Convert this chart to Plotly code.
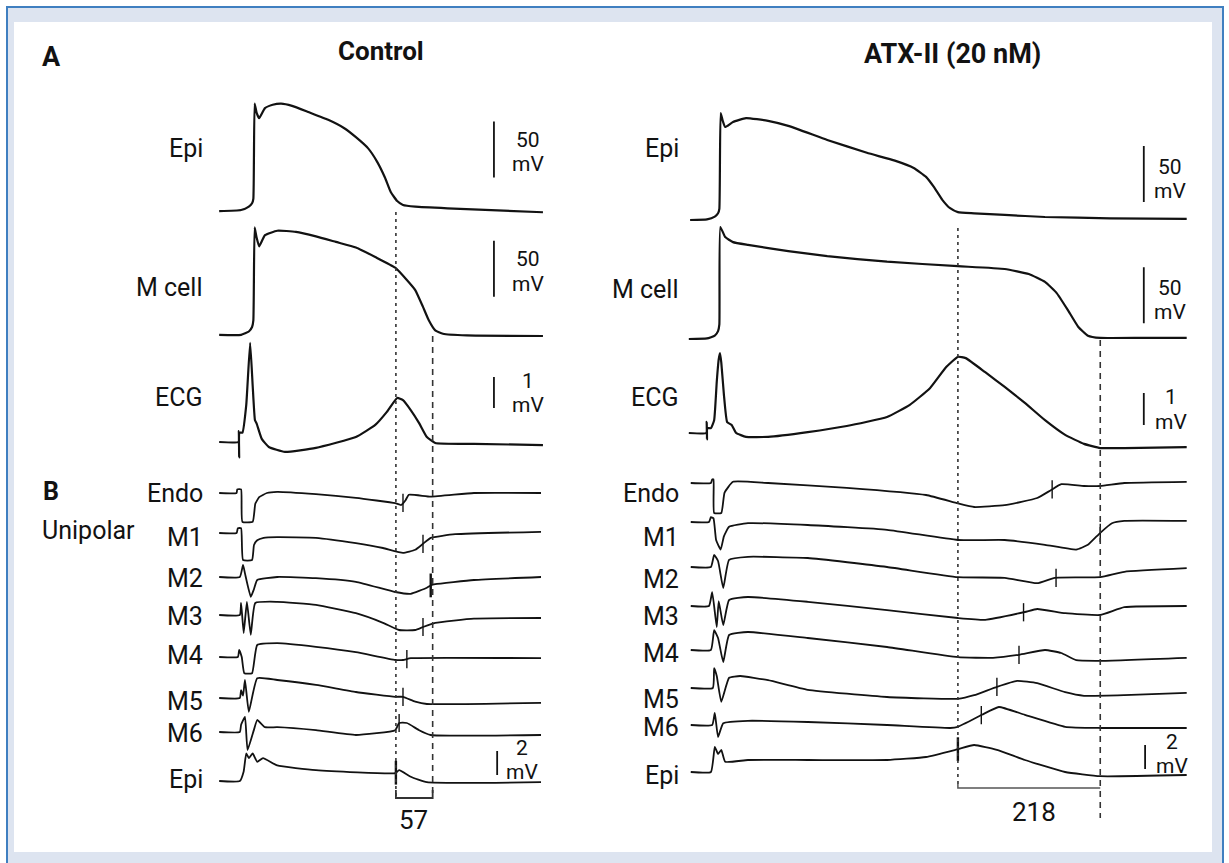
import numpy as np
import plotly.graph_objects as go

W, H = 1229, 863

# ======================= DATA (time: ms from upstroke, values: mV) =======================
# ---- Panel A : Control ----
ctrl_epi_t = [-54, -20, -8, -3, -1, 1, 4, 8, 17, 29, 42, 59, 84, 115, 140, 158, 177, 191, 203, 212, 222, 231, 250, 300, 448]
ctrl_epi_v = [-86, -85, -82, -79, -75, 10, 2, -3, 6, 9, 10, 8, 2.5, -4.5, -12, -20, -30, -42, -56, -69, -77, -80.5, -82, -83.5, -87]

ctrl_m_t = [-54, -20, -8, -3, -1, 1, 4, 8, 17, 36, 65, 96, 127, 158, 188, 219, 237, 250, 262, 271, 281, 293, 330, 448]
ctrl_m_v = [-84, -84, -81, -77, -71, 12, 3, -5, 5, 9, 8, 4, -1, -6, -14.5, -24, -35, -44, -59, -71, -80, -83, -84.5, -85]

ctrl_ecg_t = [-54, -24, -23.5, -23, -22.5, -18, -12, -6, -2, 1.5, 4, 12, 23, 48, 96, 158, 188, 206, 222, 231, 243, 256, 268, 281, 341, 448]
ctrl_ecg_v = [0, 0, 0.35, -0.5, 0.3, 0.3, 1.2, 3.2, 1.8, 0.7, 0.6, 0.1, -0.16, -0.32, -0.19, 0.16, 0.55, 0.97, 1.42, 1.35, 1.03, 0.61, 0.16, -0.03, -0.06, -0.1]

# ---- Panel A : ATX-II ----
atx_epi_t = [-46, -20, -8, -3, -1, 1, 4, 8, 20, 40, 74, 105, 165, 226, 269, 298, 317, 329, 342, 354, 366, 391, 438, 500, 600, 718]
atx_epi_v = [-85, -84.5, -82, -79, -75, 10.5, 4, -2, 2.5, 6, 3.5, -1, -13.5, -25, -32, -38.5, -46.5, -55.5, -67, -74.5, -78, -79, -80.5, -82.3, -83.5, -84]

atx_m_t = [-48, -20, -8, -3, -1, 0.5, 8, 20, 43, 105, 165, 257, 366, 438, 475, 500, 518, 535, 551, 566, 585, 650, 718]
atx_m_v = [-85, -84.5, -82, -78, -72, 15, 6, 1.5, -1, -6.5, -11, -16, -20, -22.5, -27, -34, -44, -59, -74, -82, -84, -84, -84]

atx_ecg_t = [-48, -21, -20.5, -20, -19.5, -14, -9, -5, -2, 0, 2, 6, 11, 18, 25, 40, 74, 135, 195, 257, 292, 323, 348, 366, 378, 408, 438, 469, 500, 531, 560, 585, 622, 718]
atx_ecg_v = [0, 0, 0.35, -0.2, 0.15, 0.15, 0.4, 1.6, 2.3, 2.5, 2.2, 1.2, 0.34, 0.25, 0.0, -0.12, -0.12, 0.03, 0.22, 0.5, 0.88, 1.4, 2.06, 2.38, 2.34, 1.9, 1.44, 0.94, 0.4, -0.06, -0.34, -0.47, -0.47, -0.44]

# ---- Panel B : unipolar electrograms, Control ----
channel_labels = ["Endo", "M1", "M2", "M3", "M4", "M5", "M6", "Epi"]

ctrl_endo_t = [-54, -27, -26, -20, -18, -2, 2, 8, 20, 36, 96, 158, 219, 228, 235, 240, 274, 341, 445]
ctrl_endo_v = [0, 0, 0.3, 0.3, -2.4, -2.4, -0.9, -0.35, 0, 0.1, -0.1, -0.4, -0.85, -1.0, -0.6, -0.15, -0.3, 0, 0]
ctrl_m1_t = [-54, -27, -25, -20, -17, -3, 0, 5, 15, 36, 96, 158, 200, 231, 250, 262, 274, 312, 445]
ctrl_m1_v = [0, 0, 0.4, 0.4, -2.25, -2.25, -1.0, -0.6, -0.4, -0.35, -0.4, -0.85, -1.25, -1.65, -1.4, -0.9, -0.4, -0.1, 0.1]
ctrl_m2_t = [-54, -22, -17, -14, -5, 0, 5, 36, 96, 158, 219, 243, 268, 274, 281, 341, 445]
ctrl_m2_v = [0, 0, 1.0, 0.3, -1.65, -1.0, -0.25, 0, -0.1, -0.4, -1.25, -1.4, -0.9, -0.7, -0.6, -0.25, 0]
ctrl_m3_t = [-54, -22, -20, -16, -11, -5, 2, 36, 96, 158, 200, 225, 250, 262, 281, 341, 445]
ctrl_m3_v = [0, 0, 1.0, -1.5, 1.1, -1.65, 1.0, 1.1, 0.85, 0.15, -0.65, -1.25, -1.25, -1.0, -0.65, -0.3, -0.25]
ctrl_m4_t = [-54, -25, -23, -19, -15, -3, 5, 36, 96, 158, 219, 231, 243, 445]
ctrl_m4_v = [0, 0, 0.6, 0, -1.35, -1.35, 1.0, 1.15, 0.85, 0.4, -0.25, -0.25, -0.1, -0.1]
ctrl_m5_t = [-54, -22, -20, -17, -14, -8, 5, 36, 96, 158, 219, 231, 250, 268, 445]
ctrl_m5_v = [0, 0, 0.65, 0.2, 1.5, -1.15, 1.65, 1.5, 1.1, 0.5, 0.1, 0.1, -0.3, -0.5, -0.4]
ctrl_m6_t = [-54, -22, -20, -14, -10, 0, 5, 17, 36, 96, 158, 219, 225, 237, 256, 274, 445]
ctrl_m6_v = [0, 0, 0.6, 1.25, -1.5, 0.2, 1.0, 0.4, 0.4, 0.15, -0.25, 0.15, 0.75, 0.75, 0.15, -0.25, -0.25]
ctrl_epiu_t = [-54, -22, -16, -12, -8, -5, -2, 5, 14, 36, 96, 219, 225, 243, 268, 445]
ctrl_epiu_v = [0, 0, 0.8, 2.3, 1.9, 2.1, 2.3, 1.6, 1.9, 1.3, 0.9, 0.65, 0.9, 0.35, -0.1, -0.1]
ctrl_tick_t = [231, 262, 274, 262, 237, 231, 225, 220]

# ---- Panel B : unipolar electrograms, ATX-II ----
atx_endo_t = [-45, -14, -12, -10, -9, 2, 7, 20, 74, 195, 317, 366, 391, 438, 488, 509, 525, 560, 585, 622, 718]
atx_endo_v = [0, 0, 0.3, 0.3, -2.5, -2.5, -0.8, 0.1, 0, -0.4, -1.0, -1.7, -2.0, -1.85, -1.25, -0.6, -0.1, -0.25, -0.25, 0, 0.1]
atx_m1_t = [-45, -17, -14, -10, -6, 1, 6, 14, 43, 135, 257, 366, 438, 500, 548, 566, 585, 603, 622, 718]
atx_m1_v = [0, 0, 0.4, 0.3, -1.5, -2.3, -1.2, -0.4, -0.1, -0.25, -0.65, -1.5, -1.5, -1.9, -2.3, -1.9, -0.9, -0.1, 0.1, 0.1]
atx_m2_t = [-45, -14, -9, -3, 5, 14, 43, 135, 257, 366, 438, 488, 515, 585, 622, 718]
atx_m2_v = [0, 0, 1.0, 0.5, -1.75, 0.6, 0.85, 0.75, 0, -0.85, -0.9, -1.35, -0.9, -0.85, -0.4, -0.1]
atx_m3_t = [-45, -17, -12, -5, -2, 5, 14, 43, 135, 257, 366, 408, 469, 488, 531, 585, 622, 718]
atx_m3_v = [0, 0, 1.15, -1.75, 0.4, -1.6, 0.5, 0.75, 0.35, -0.35, -1.0, -1.15, -0.5, -0.25, -0.6, -0.75, -0.1, 0]
atx_m4_t = [-45, -14, -9, -3, 5, 14, 43, 135, 257, 366, 420, 460, 500, 525, 548, 585, 718]
atx_m4_v = [0, 0, 1.65, 1.0, -1.0, 1.25, 1.5, 1.0, 0.25, -0.6, -0.65, -0.4, 0, -0.25, -0.85, -0.9, -0.65]
atx_m5_t = [-45, -11, -9, -5, 2, 14, 31, 74, 135, 257, 366, 391, 426, 457, 488, 531, 560, 622, 718]
atx_m5_v = [0, 0, 1.65, 1.0, -1.15, 0.85, 1.0, 0.65, -0.15, -0.75, -0.9, -0.6, 0.1, 0.6, 0.4, -0.35, -0.65, -0.6, -0.4]
atx_m6_t = [-45, -12, -8, -3, 5, 43, 135, 257, 354, 366, 403, 429, 469, 531, 585, 718]
atx_m6_v = [0, 0, 1.0, -1.0, 0.15, 0.35, 0.25, 0, -0.25, -0.15, 0.85, 1.5, 0.85, -0.15, -0.25, -0.25]
atx_epiu_t = [-45, -14, -8, -3, 2, 8, 43, 135, 257, 317, 366, 391, 426, 469, 531, 585, 718]
atx_epiu_v = [0, 0, 2.1, 1.5, 1.85, 0.85, 1.0, 1.0, 1.0, 1.25, 1.9, 2.25, 1.85, 1.0, 0, -0.35, -0.25]
atx_tick_t = [511, 585, 517, 467, 460, 426, 402, 366]

# interval markers (ms): end of Epi repolarization / end of M cell repolarization
ctrl_interval = [220, 277]   # 57 ms
atx_interval = [366, 585]    # 218 ms
interval_labels = ["57", "218"]

# ======================= LAYOUT / STYLE =======================
FONT = "Roboto, 'Liberation Sans', Arial, sans-serif"
INK = "#121212"

def px_x(p):
    return p / W

def px_y(p):
    return 1 - p / H

def ydomain(base, k, lo, hi):
    return [px_y(base + lo * k), px_y(base - hi * k)]

# column geometry: pixel = origin + scale * t
cols = [
    dict(xaxis="x", origin=254, scale=0.645, trange=[-60, 460]),
    dict(xaxis="x2", origin=720, scale=0.650, trange=[-50, 730]),
]

ctrl_uni = [(ctrl_endo_t, ctrl_endo_v), (ctrl_m1_t, ctrl_m1_v), (ctrl_m2_t, ctrl_m2_v), (ctrl_m3_t, ctrl_m3_v),
            (ctrl_m4_t, ctrl_m4_v), (ctrl_m5_t, ctrl_m5_v), (ctrl_m6_t, ctrl_m6_v), (ctrl_epiu_t, ctrl_epiu_v)]
atx_uni = [(atx_endo_t, atx_endo_v), (atx_m1_t, atx_m1_v), (atx_m2_t, atx_m2_v), (atx_m3_t, atx_m3_v),
           (atx_m4_t, atx_m4_v), (atx_m5_t, atx_m5_v), (atx_m6_t, atx_m6_v), (atx_epiu_t, atx_epiu_v)]

ctrl_uni_base = [493, 533, 577, 615, 657, 698, 732, 781]
atx_uni_base = [483, 522, 567, 606, 650, 688, 725, 772]

# row specs: (t, v, baseline_px, px_per_unit, ref_value, lo, hi, line_width)
col_rows = [
    [(ctrl_epi_t, ctrl_epi_v, 210, 1.12, -85, 10, 110, 2.2),
     (ctrl_m_t, ctrl_m_v, 336, 1.12, -85, 10, 110, 2.2),
     (ctrl_ecg_t, ctrl_ecg_v, 442, 31, 0, 1, 4, 2.2)]
    + [(t, v, b, 12, 0, 3.5, 3.5, 1.8) for (t, v), b in zip(ctrl_uni, ctrl_uni_base)],
    [(atx_epi_t, atx_epi_v, 220, 1.12, -85, 10, 110, 2.2),
     (atx_m_t, atx_m_v, 339, 1.12, -85, 10, 110, 2.2),
     (atx_ecg_t, atx_ecg_v, 433, 32, 0, 1, 4, 2.2)]
    + [(t, v, b, 12, 0, 3.5, 3.5, 1.8) for (t, v), b in zip(atx_uni, atx_uni_base)],
]
ticks_t = [ctrl_tick_t, atx_tick_t]
bold_ticks = [{2, 7}, {7}]

fig = go.Figure()
layout = dict()
shapes = []
annotations = []

# frame
shapes.append(dict(type="rect", xref="paper", yref="paper", x0=px_x(7), x1=px_x(1223), y0=px_y(880), y1=px_y(7),
                   fillcolor="#dde4f0", line=dict(color="#3f7fc0", width=2), layer="below"))
shapes.append(dict(type="rect", xref="paper", yref="paper", x0=px_x(14), x1=px_x(1212), y0=px_y(852), y1=px_y(22),
                   fillcolor="white", line=dict(width=0), layer="below"))

axis_idx = 0
axis_of = {}
for c, (col, rows) in enumerate(zip(cols, col_rows)):
    p0 = col["origin"] + col["scale"] * col["trange"][0]
    p1 = col["origin"] + col["scale"] * col["trange"][1]
    xname = "xaxis" if c == 0 else "xaxis2"
    layout[xname] = dict(domain=[px_x(p0), px_x(p1)], range=col["trange"], visible=False, fixedrange=True)
    for r, (t, v, base, k, v0, lo, hi, lw) in enumerate(rows):
        axis_idx += 1
        yname = "yaxis" if axis_idx == 1 else f"yaxis{axis_idx}"
        yref = "y" if axis_idx == 1 else f"y{axis_idx}"
        axis_of[(c, r)] = yref
        layout[yname] = dict(domain=ydomain(base, k, lo, hi), range=[v0 - lo, v0 + hi],
                             visible=False, fixedrange=True, anchor=col["xaxis"])
        fig.add_trace(go.Scatter(x=t, y=v, xaxis=col["xaxis"], yaxis=yref, mode="lines",
                                 line=dict(color=INK, width=lw, shape="spline", smoothing=0.4),
                                 hoverinfo="skip", showlegend=False))
        if r >= 3:
            u = r - 3
            tt = ticks_t[c][u]
            yy = float(np.interp(tt, t, v))
            bold = u in bold_ticks[c]
            fig.add_trace(go.Scatter(x=[tt], y=[yy], xaxis=col["xaxis"], yaxis=yref, mode="markers",
                                     marker=dict(symbol="line-ns", size=17 if bold else 13,
                                                 line=dict(color=INK, width=2.4 if bold else 1.4)),
                                     hoverinfo="skip", showlegend=False, cliponaxis=False))

# scale bars (in data units of their row axis)
bar_specs = [
    (0, 0, 372, -56, -6), (0, 1, 372, -50, 0), (0, 2, 372, 1.1, 2.1), (0, 10, 377, 0.5, 2.5),
    (1, 0, 652, -69, -19), (1, 1, 652, -71, -21), (1, 2, 652, 0.25, 1.25), (1, 10, 654, 0.25, 2.25),
]
for c, r, tx, ya, yb in bar_specs:
    shapes.append(dict(type="line", xref=cols[c]["xaxis"], yref=axis_of[(c, r)], x0=tx, x1=tx, y0=ya, y1=yb,
                       line=dict(color=INK, width=1.8)))

def tpx(c, t):
    return cols[c]["origin"] + cols[c]["scale"] * t

# interval guide lines
guide = [
    (0, ctrl_interval[0], 212, 798, "3px,4px"), (0, ctrl_interval[1], 336, 798, "6px,5px"),
    (1, atx_interval[0], 228, 788, "3px,4px"), (1, atx_interval[1], 340, 818, "6px,5px"),
]
for c, t, ya, yb, dash in guide:
    shapes.append(dict(type="line", xref=cols[c]["xaxis"], yref="paper", x0=t, x1=t, y0=px_y(ya), y1=px_y(yb),
                       line=dict(color="#333333", width=1.6, dash=dash)))

# brackets
shapes.append(dict(type="path", xref="x", yref="paper",
                   path=f"M {ctrl_interval[0]},{px_y(790)} L {ctrl_interval[0]},{px_y(798)} L {ctrl_interval[1]},{px_y(798)} L {ctrl_interval[1]},{px_y(790)}",
                   line=dict(color="#333333", width=1.8)))
shapes.append(dict(type="path", xref="x2", yref="paper",
                   path=f"M {atx_interval[0]},{px_y(781)} L {atx_interval[0]},{px_y(788)} L {atx_interval[1]},{px_y(788)}",
                   line=dict(color="#555555", width=1.5)))

def txt(s, x, y, size, anchor="center", bold=False, yanchor="middle"):
    annotations.append(dict(text=f"<b>{s}</b>" if bold else s, x=px_x(x), y=px_y(y), xref="paper", yref="paper",
                            xanchor=anchor, yanchor=yanchor, showarrow=False, borderpad=0,
                            font=dict(family=FONT, size=size, color=INK)))

# titles
txt("A", 41, 57, 27, "left", True)
txt("Control", 381, 51, 26, "center", True)
txt("ATX-II (20 nM)", 952, 54, 27, "center", True)
txt("B", 42, 491, 25, "left", True)
txt("Unipolar", 41, 530, 25, "left")

# panel A labels
for lab, yl, yr in zip(["Epi", "M cell", "ECG"], [148, 287, 397], [148, 289, 397]):
    txt(lab, 204, yl, 25, "right")
    txt(lab, 680, yr, 25, "right")

# panel B labels
ctrl_lab_y = [494, 537, 578, 616, 655, 701, 733, 779]
atx_lab_y = [493, 537, 579, 616, 653, 699, 727, 775]
for lab, yl, yr in zip(channel_labels, ctrl_lab_y, atx_lab_y):
    txt(lab, 204, yl, 25, "right")
    txt(lab, 680, yr, 25, "right")

# scale-bar labels: (top text, bottom text, x, boundary y)
for top, bot, x, yb in [("50", "mV", 528, 152), ("50", "mV", 528, 271.5), ("1", "mV", 528, 392.5),
                        ("2", "mV", 522, 759.5), ("50", "mV", 1170, 178.5), ("50", "mV", 1170, 300),
                        ("1", "mV", 1171, 409.5), ("2", "mV", 1172, 754)]:
    txt(top, x, yb + 1, 21, "center", yanchor="bottom")
    txt(bot, x, yb - 1, 21, "center", yanchor="top")

# interval values
txt(interval_labels[0], tpx(0, sum(ctrl_interval) / 2) - 1, 820, 26)
txt(interval_labels[1], 1034, 812, 26)

fig.update_layout(**layout)
fig.update_layout(width=W, height=H, margin=dict(l=0, r=0, t=0, b=0, pad=0), autosize=False,
                  paper_bgcolor="white", plot_bgcolor="rgba(0,0,0,0)", showlegend=False,
                  shapes=shapes, annotations=annotations, dragmode=False, hovermode=False)

fig.write_html("out.html", config=dict(displayModeBar=False, staticPlot=True),
               post_script="document.body.style.margin='0px';document.body.style.padding='0px';"
                           "document.body.style.overflow='hidden';")
